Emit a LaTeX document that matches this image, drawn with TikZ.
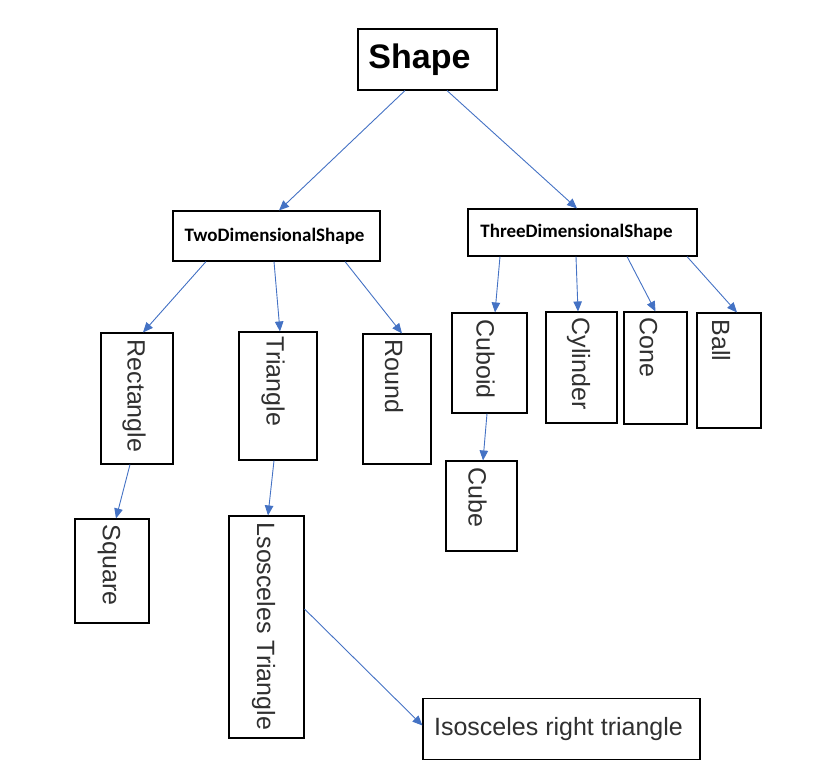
\documentclass[tikz,border=0pt]{standalone}
\usepackage{fontspec}
\setmainfont{Liberation Sans}
\newfontfamily\calibrifont{Carlito}
\usetikzlibrary{arrows.meta, positioning}
\definecolor{linkblue}{HTML}{4472C4}
\definecolor{inkgray}{HTML}{303030}

\begin{document}
\begin{tikzpicture}[x=1pt, y=-1pt,
    box/.style={draw, line width=1.1pt, inner sep=0pt},
    vlabel/.style={rotate=-90, anchor=west, inner sep=0pt, text=inkgray,
      font=\fontsize{25}{30}\selectfont},
    link/.style={draw=linkblue, line width=0.9pt, -{Triangle[length=10pt, width=8.5pt]}}]
        \useasboundingbox (0, 0) rectangle (813, 782);
        % top level
        \node[box, minimum width=139pt, minimum height=61pt, font=\bfseries\fontsize{34}{40}\selectfont] (shape) at (427.5, 59.5) {Shape\kern16pt};
        \node[box, minimum width=207pt, minimum height=50pt, font=\calibrifont\bfseries\fontsize{19}{23}\selectfont] (two) at (276.5, 236) {TwoDimensionalShape\kern4pt};
        \node[box, minimum width=229pt, minimum height=47pt, font=\calibrifont\bfseries\fontsize{19}{23}\selectfont] (three) at (582.5, 232.5) {ThreeDimensionalShape\kern12pt};
        % two dimensional
        \node[box, minimum width=72pt, minimum height=131pt] (rect) at (137, 398.5) {};
        \node[box, minimum width=78pt, minimum height=128pt] (tri) at (278, 396) {};
        \node[box, minimum width=68pt, minimum height=130pt] (round) at (397, 399) {};
        \node[box, minimum width=74pt, minimum height=104pt] (square) at (112, 571) {};
        \node[box, minimum width=75pt, minimum height=222pt] (iso) at (266.5, 627) {};
        \node[box, minimum width=277pt, minimum height=61pt, text=inkgray, font=\fontsize{25}{30}\selectfont] (isoright) at (561.5, 729) {Isosceles right triangle\kern6pt};
        % three dimensional
        \node[box, minimum width=75pt, minimum height=100pt] (cuboid) at (489.5, 363) {};
        \node[box, minimum width=71pt, minimum height=111pt] (cyl) at (581.5, 367.5) {};
        \node[box, minimum width=63pt, minimum height=112pt] (cone) at (655.5, 368) {};
        \node[box, minimum width=64pt, minimum height=115pt] (ball) at (729, 370.5) {};
        \node[box, minimum width=71pt, minimum height=90pt] (cube) at (481.5, 506) {};
        % vertical texts
        \node[vlabel] (rectlabel) at ([xshift=-3pt, yshift=-7pt]rect.north) {Rectangle};
        \node[vlabel] (trilabel) at ([xshift=-5pt, yshift=-5pt]tri.north) {Triangle};
        \node[vlabel] (roundlabel) at ([xshift=-3pt, yshift=-6pt]round.north) {Round};
        \node[vlabel] (squarelabel) at ([xshift=-3pt, yshift=-6pt]square.north) {Square};
        \node[vlabel] (isolabel) at ([xshift=-3pt, yshift=-7pt]iso.north) {Lsosceles Triangle};
        \node[vlabel] (cuboidlabel) at ([xshift=-4pt, yshift=-7pt]cuboid.north) {Cuboid};
        \node[vlabel] (cyllabel) at ([xshift=-3pt, yshift=-6pt]cyl.north) {Cylinder};
        \node[vlabel] (conelabel) at ([xshift=-7pt, yshift=-6pt]cone.north) {Cone};
        \node[vlabel] (balllabel) at ([xshift=-8pt, yshift=-7pt]ball.north) {Ball};
        \node[vlabel] (cubelabel) at ([xshift=-4pt, yshift=-7pt]cube.north) {Cube};
        % connectors
        \draw[link] ([xshift=-22.5pt]shape.south) -- ([xshift=2.5pt]two.north);
        \draw[link] ([xshift=19.5pt]shape.south) -- ([xshift=-5.5pt]three.north);
        \draw[link] ([xshift=-70.5pt]two.south) -- ([xshift=6pt]rect.north);
        \draw[link] ([xshift=-2.5pt]two.south) -- ([xshift=2pt]tri.north);
        \draw[link] ([xshift=68.5pt]two.south) -- ([xshift=5pt]round.north);
        \draw[link] ([xshift=-82.5pt]three.south) -- ([xshift=5.5pt]cuboid.north);
        \draw[link] ([xshift=-6.5pt]three.south) -- ([xshift=-3.5pt]cyl.north);
        \draw[link] ([xshift=44.5pt]three.south) -- (cone.north);
        \draw[link] ([xshift=104.5pt]three.south) -- ([xshift=8pt]ball.north);
        \draw[link] ([xshift=-7pt]rect.south) -- ([xshift=4pt]square.north);
        \draw[link] ([xshift=-4pt]tri.south) -- ([xshift=1.5pt]iso.north);
        \draw[link] ([xshift=-2.5pt]cuboid.south) -- ([xshift=1.5pt]cube.north);
        \draw[link] ([yshift=18pt]iso.east) -- ([yshift=3.5pt]isoright.west);
      \end{tikzpicture}
\end{document}
